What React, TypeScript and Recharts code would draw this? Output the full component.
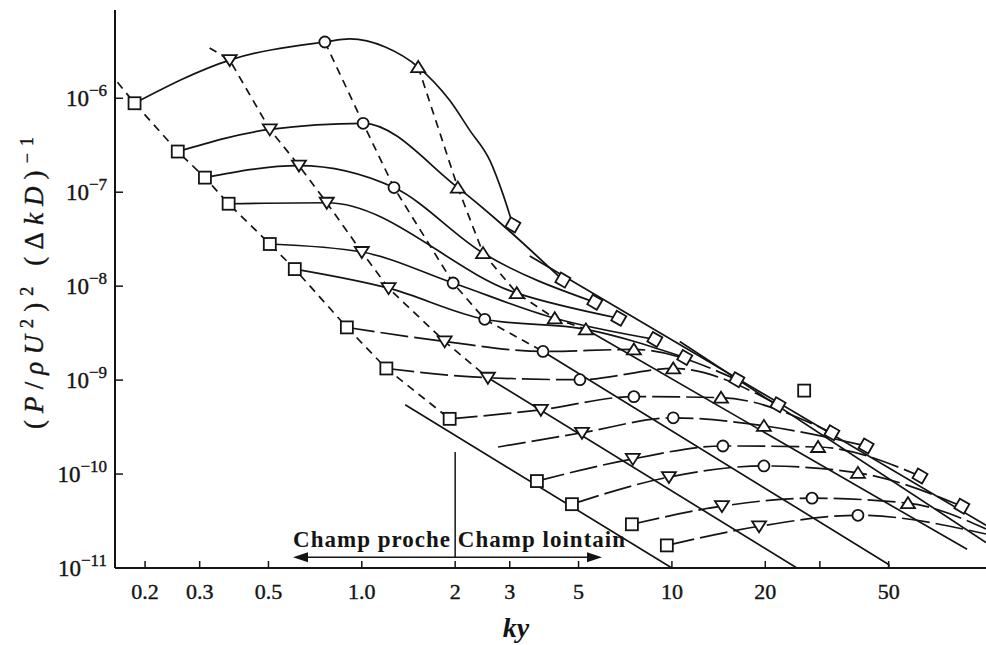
import React from 'react';
import { ComposedChart, Line, XAxis, YAxis, ReferenceLine } from 'recharts';

type Pt = { x: number; y: number; m?: string };

const INK = '#141414';
const SERIF = '"Liberation Serif", "Times New Roman", serif';

const xTicks = [0.2, 0.3, 0.5, 1, 2, 3, 5, 10, 20, 30, 50];
const xTickLabels = ['0.2', '0.3', '0.5', '1.0', '2', '3', '5', '10', '20', '', '50'];
const yTicks = [1e-6, 1e-7, 1e-8, 1e-9, 1e-10, 1e-11];
const yTickExps = ['−6', '−7', '−8', '−9', '−10', '−11'];

// rows (one curve per row, marker: s = square, v = down triangle, o = circle, ^ = up triangle, d = diamond)
const row1: Pt[] = [
  { x: 0.185, y: 8.85e-7, m: 's' },
  { x: 0.375, y: 2.55e-6, m: 'v' },
  { x: 0.76, y: 3.97e-6, m: 'o' },
  { x: 0.915, y: 4.28e-6 },
  { x: 1.19, y: 3.51e-6 },
  { x: 1.52, y: 2.15e-6, m: '^' },
  { x: 1.92, y: 9.5e-7 },
  { x: 2.23, y: 4.55e-7 },
  { x: 2.59, y: 2.17e-7 },
  { x: 2.85, y: 9.6e-8 },
  { x: 3.07, y: 4.49e-8, m: 'd' },
];
const row2: Pt[] = [
  { x: 0.255, y: 2.71e-7, m: 's' },
  { x: 0.505, y: 4.66e-7, m: 'v' },
  { x: 1.01, y: 5.41e-7, m: 'o' },
  { x: 2.04, y: 1.12e-7, m: '^' },
  { x: 4.45, y: 1.16e-8, m: 'd' },
];
const row3: Pt[] = [
  { x: 0.312, y: 1.43e-7, m: 's' },
  { x: 0.627, y: 1.92e-7, m: 'v' },
  { x: 1.27, y: 1.12e-7, m: 'o' },
  { x: 2.46, y: 2.25e-8, m: '^' },
  { x: 5.64, y: 6.74e-9, m: 'd' },
];
const row4: Pt[] = [
  { x: 0.372, y: 7.54e-8, m: 's' },
  { x: 0.771, y: 7.72e-8, m: 'v' },
  { x: 3.16, y: 8.42e-9, m: '^' },
  { x: 6.74, y: 4.55e-9, m: 'd' },
];
const row5: Pt[] = [
  { x: 0.505, y: 2.81e-8, m: 's' },
  { x: 1.0, y: 2.31e-8, m: 'v' },
  { x: 1.97, y: 1.08e-8, m: 'o' },
  { x: 4.19, y: 4.55e-9, m: '^' },
  { x: 8.81, y: 2.71e-9, m: 'd' },
];
const row6: Pt[] = [
  { x: 0.608, y: 1.52e-8, m: 's' },
  { x: 1.22, y: 9.52e-9, m: 'v' },
  { x: 2.49, y: 4.44e-9, m: 'o' },
  { x: 5.28, y: 3.47e-9, m: '^' },
  { x: 11.0, y: 1.74e-9, m: 'd' },
];
const row7: Pt[] = [
  { x: 0.895, y: 3.64e-9, m: 's' },
  { x: 1.85, y: 2.58e-9, m: 'v' },
  { x: 3.84, y: 2.02e-9, m: 'o' },
  { x: 7.54, y: 2.12e-9, m: '^' },
  { x: 16.2, y: 1.01e-9, m: 'd' },
];
const row8: Pt[] = [
  { x: 1.2, y: 1.33e-9, m: 's' },
  { x: 2.55, y: 1.06e-9, m: 'v' },
  { x: 5.05, y: 1.01e-9, m: 'o' },
  { x: 10.1, y: 1.33e-9, m: '^' },
  { x: 22.0, y: 5.47e-10, m: 'd' },
];
const row9: Pt[] = [
  { x: 1.92, y: 3.87e-10, m: 's' },
  { x: 3.78, y: 4.83e-10, m: 'v' },
  { x: 7.54, y: 6.67e-10, m: 'o' },
  { x: 14.4, y: 6.5e-10, m: '^' },
  { x: 32.8, y: 2.75e-10, m: 'd' },
];
const row10: Pt[] = [
  { x: 2.75, y: 1.94e-10 },
  { x: 5.13, y: 2.75e-10, m: 'v' },
  { x: 10.1, y: 3.97e-10, m: 'o' },
  { x: 19.8, y: 3.26e-10, m: '^' },
  { x: 42.3, y: 1.99e-10, m: 'd' },
];
const row11: Pt[] = [
  { x: 3.67, y: 8.42e-11, m: 's' },
  { x: 7.48, y: 1.45e-10, m: 'v' },
  { x: 14.6, y: 1.99e-10, m: 'o' },
  { x: 29.6, y: 1.94e-10, m: '^' },
  { x: 63.1, y: 9.53e-11, m: 'd' },
];
const row12: Pt[] = [
  { x: 4.76, y: 4.78e-11, m: 's' },
  { x: 9.78, y: 9.29e-11, m: 'v' },
  { x: 19.8, y: 1.22e-10, m: 'o' },
  { x: 39.8, y: 1.03e-10, m: '^' },
  { x: 86.1, y: 4.55e-11, m: 'd' },
];
const row13: Pt[] = [
  { x: 7.43, y: 2.92e-11, m: 's' },
  { x: 14.5, y: 4.55e-11, m: 'v' },
  { x: 28.3, y: 5.54e-11, m: 'o' },
  { x: 57.7, y: 4.9e-11, m: '^' },
  { x: 103, y: 2.6e-11 },
];
const row14: Pt[] = [
  { x: 9.63, y: 1.74e-11, m: 's' },
  { x: 19.1, y: 2.78e-11, m: 'v' },
  { x: 39.8, y: 3.64e-11, m: 'o' },
  { x: 103, y: 2.3e-11 },
];
const rows = [row1, row2, row3, row4, row5, row6, row7, row8, row9, row10, row11, row12, row13, row14];

// near field, dashed, one per marker family
const nearSquare: Pt[] = [
  { x: 0.163, y: 1.48e-6 }, { x: 0.185, y: 8.85e-7 }, { x: 0.255, y: 2.71e-7 }, { x: 0.312, y: 1.43e-7 },
  { x: 0.372, y: 7.54e-8 }, { x: 0.505, y: 2.81e-8 }, { x: 0.608, y: 1.52e-8 }, { x: 0.895, y: 3.64e-9 },
  { x: 1.2, y: 1.33e-9 }, { x: 1.92, y: 3.87e-10 },
];
const nearDown: Pt[] = [
  { x: 0.323, y: 3.43e-6 }, { x: 0.375, y: 2.55e-6 }, { x: 0.505, y: 4.66e-7 }, { x: 0.627, y: 1.92e-7 },
  { x: 0.771, y: 7.72e-8 }, { x: 1.0, y: 2.31e-8 }, { x: 1.22, y: 9.52e-9 }, { x: 1.85, y: 2.58e-9 },
  { x: 2.55, y: 1.06e-9 },
];
const nearCircle: Pt[] = [
  { x: 0.76, y: 3.97e-6 }, { x: 1.01, y: 5.41e-7 }, { x: 1.27, y: 1.12e-7 }, { x: 1.97, y: 1.08e-8 },
  { x: 2.49, y: 4.44e-9 }, { x: 3.84, y: 2.02e-9 },
];
const nearUp: Pt[] = [
  { x: 1.52, y: 2.15e-6 }, { x: 2.04, y: 1.12e-7 }, { x: 2.46, y: 2.25e-8 }, { x: 3.16, y: 8.42e-9 },
  { x: 4.19, y: 4.55e-9 }, { x: 5.28, y: 3.47e-9 },
];
const nearLines = [nearSquare, nearDown, nearCircle, nearUp];

// far field, straight solid lines
const farEnvelope: Pt[] = [{ x: 3.48, y: 2.09e-8 }, { x: 103, y: 2.85e-11 }];
const farSquare: Pt[] = [{ x: 1.38, y: 5.47e-10 }, { x: 10, y: 1e-11 }];
const farDown: Pt[] = [{ x: 2.55, y: 1.06e-9 }, { x: 25.3, y: 1e-11 }];
const farCircle: Pt[] = [{ x: 3.84, y: 2.02e-9 }, { x: 50, y: 1.09e-11 }, { x: 50, y: 1e-11 }];
const farUp: Pt[] = [{ x: 5.28, y: 3.47e-9 }, { x: 89.5, y: 1.58e-11 }];
const farUpper: Pt[] = [{ x: 10.6, y: 2.58e-9 }, { x: 103, y: 1.87e-11 }];
const farLines = [farEnvelope, farSquare, farDown, farCircle, farUp, farUpper];

const strayPoint: Pt[] = [{ x: 26.7, y: 7.73e-10, m: 's' }];

const splitLine = [{ x: 2, y: 1.72e-10 }, { x: 2, y: 1.3e-11 }];
const fieldArrow = [{ x: 0.6, y: 1.3e-11 }, { x: 5.95, y: 1.3e-11 }];

function Marker(props: any) {
  const { cx, cy, payload, index } = props;
  const key = 'm' + index;
  if (cx == null || cy == null || !payload || !payload.m) return <g key={key} />;
  const common = { fill: '#fff', stroke: INK, strokeWidth: 1.8 };
  switch (payload.m) {
    case 's':
      return <rect key={key} x={cx - 6} y={cy - 6} width={12} height={12} {...common} />;
    case 'v':
      return <path key={key} d={`M${cx - 7},${cy - 5}L${cx + 7},${cy - 5}L${cx},${cy + 6}Z`} {...common} />;
    case '^':
      return <path key={key} d={`M${cx - 7},${cy + 5}L${cx + 7},${cy + 5}L${cx},${cy - 6}Z`} {...common} />;
    case 'o':
      return <circle key={key} cx={cx} cy={cy} r={5.5} {...common} />;
    case 'd':
      return (
        <rect key={key} x={cx - 5.5} y={cy - 5.5} width={11} height={11}
          transform={`rotate(30 ${cx} ${cy})`} {...common} />
      );
  }
  return <g key={key} />;
}

const renderXTick = (props: any) => {
  const { x, y, payload } = props;
  const label = xTickLabels[xTicks.indexOf(payload.value)];
  return (
    <g>
      <line x1={x} y1={y} x2={x} y2={y - 7} stroke={INK} strokeWidth={1.5} />
      {label ? (
        <text x={x} y={y + 31} textAnchor="middle" fontFamily={SERIF} fontSize={22} fill={INK}
          stroke={INK} strokeWidth={0.4}>
          {label}
        </text>
      ) : null}
    </g>
  );
};

const renderYTick = (props: any) => {
  const { x, y, payload } = props;
  const exp = yTickExps[yTicks.indexOf(payload.value)];
  return (
    <g>
      <line x1={x} y1={y} x2={x + 8} y2={y} stroke={INK} strokeWidth={1.5} />
      <text x={x - 8} y={y + 8} textAnchor="end" fontFamily={SERIF} fontSize={23} fill={INK}
        stroke={INK} strokeWidth={0.4}>
        <tspan>10</tspan>
        <tspan dy={-10} fontSize={17}>{exp}</tspan>
      </text>
    </g>
  );
};

const yTitle = () => (
  <text x={43} y={283} transform="rotate(-90 43 283)" textAnchor="middle" fontFamily={SERIF} fontSize={27}
    fill={INK} stroke={INK} strokeWidth={0.4} textLength={292} lengthAdjust="spacing">
    <tspan>(</tspan>
    <tspan fontStyle="italic">P</tspan>
    <tspan>/</tspan>
    <tspan fontStyle="italic">ρU</tspan>
    <tspan dy={-10} fontSize={18}>2</tspan>
    <tspan dy={10}>)</tspan>
    <tspan dy={-10} fontSize={18}>2</tspan>
    <tspan dy={10}> (Δ</tspan>
    <tspan fontStyle="italic">kD</tspan>
    <tspan>)</tspan>
    <tspan dy={-10} fontSize={18}>−1</tspan>
  </text>
);

const xTitle = () => (
  <text x={516} y={637} textAnchor="middle" fontFamily={SERIF} fontSize={28} fontStyle="italic" fontWeight="bold" fill={INK}>
    ky
  </text>
);

const ArrowShape = (p: any) => {
  const { x1, y1, x2, y2 } = p;
  return (
    <g>
      <line x1={x1 + 10} y1={y1} x2={x2 - 10} y2={y2} stroke={INK} strokeWidth={1.5} />
      <path d={`M${x1},${y1}l15,-5l0,10z`} fill={INK} />
      <path d={`M${x2},${y2}l-15,-5l0,10z`} fill={INK} />
      <text x={x1} y={y1 - 10} textLength={332} lengthAdjust="spacing" fontFamily={SERIF}
        fontSize={23} fontWeight="bold" fill={INK}>
        Champ proche Champ lointain
      </text>
    </g>
  );
};

export default function App() {
  return (
    <div style={{ position: 'absolute', left: 0, top: 0, width: 986, height: 645, background: '#fff' }}>
      <ComposedChart width={986} height={645} margin={{ top: 10, right: 0, bottom: 17, left: 25 }}>
        <XAxis
          type="number"
          dataKey="x"
          scale="log"
          domain={[0.16, 103]}
          allowDataOverflow
          ticks={xTicks}
          interval={0}
          tick={renderXTick}
          tickLine={false}
          tickSize={0}
          tickMargin={0}
          axisLine={{ stroke: INK, strokeWidth: 2 }}
          height={60}
          label={{ content: xTitle }}
        />
        <YAxis
          type="number"
          scale="log"
          domain={[1e-11, 8.7e-6]}
          allowDataOverflow
          ticks={yTicks}
          interval={0}
          tick={renderYTick}
          tickLine={false}
          tickSize={0}
          tickMargin={0}
          axisLine={{ stroke: INK, strokeWidth: 2 }}
          width={90}
          label={{ content: yTitle }}
        />
        {farLines.map((d, i) => (
          <Line key={'f' + i} data={d} dataKey="y" type="linear" stroke={INK} strokeWidth={1.7}
            dot={false} activeDot={false} isAnimationActive={false} />
        ))}
        {nearLines.map((d, i) => (
          <Line key={'n' + i} data={d} dataKey="y" type="linear" stroke={INK} strokeWidth={1.7}
            strokeDasharray="8 6" dot={false} activeDot={false} isAnimationActive={false} />
        ))}
        {rows.map((d, i) => (
          <Line key={'r' + i} data={d} dataKey="y" type="monotone" stroke={INK} strokeWidth={1.7}
            strokeDasharray={i >= 6 ? '28 6' : undefined} dot={Marker} activeDot={false}
            isAnimationActive={false} />
        ))}
        <Line data={strayPoint} dataKey="y" stroke="none" dot={Marker} activeDot={false} isAnimationActive={false} />
        <ReferenceLine segment={splitLine} stroke={INK} strokeWidth={1.5} ifOverflow="visible" />
        <ReferenceLine segment={fieldArrow} shape={ArrowShape} ifOverflow="visible" />
      </ComposedChart>
    </div>
  );
}
